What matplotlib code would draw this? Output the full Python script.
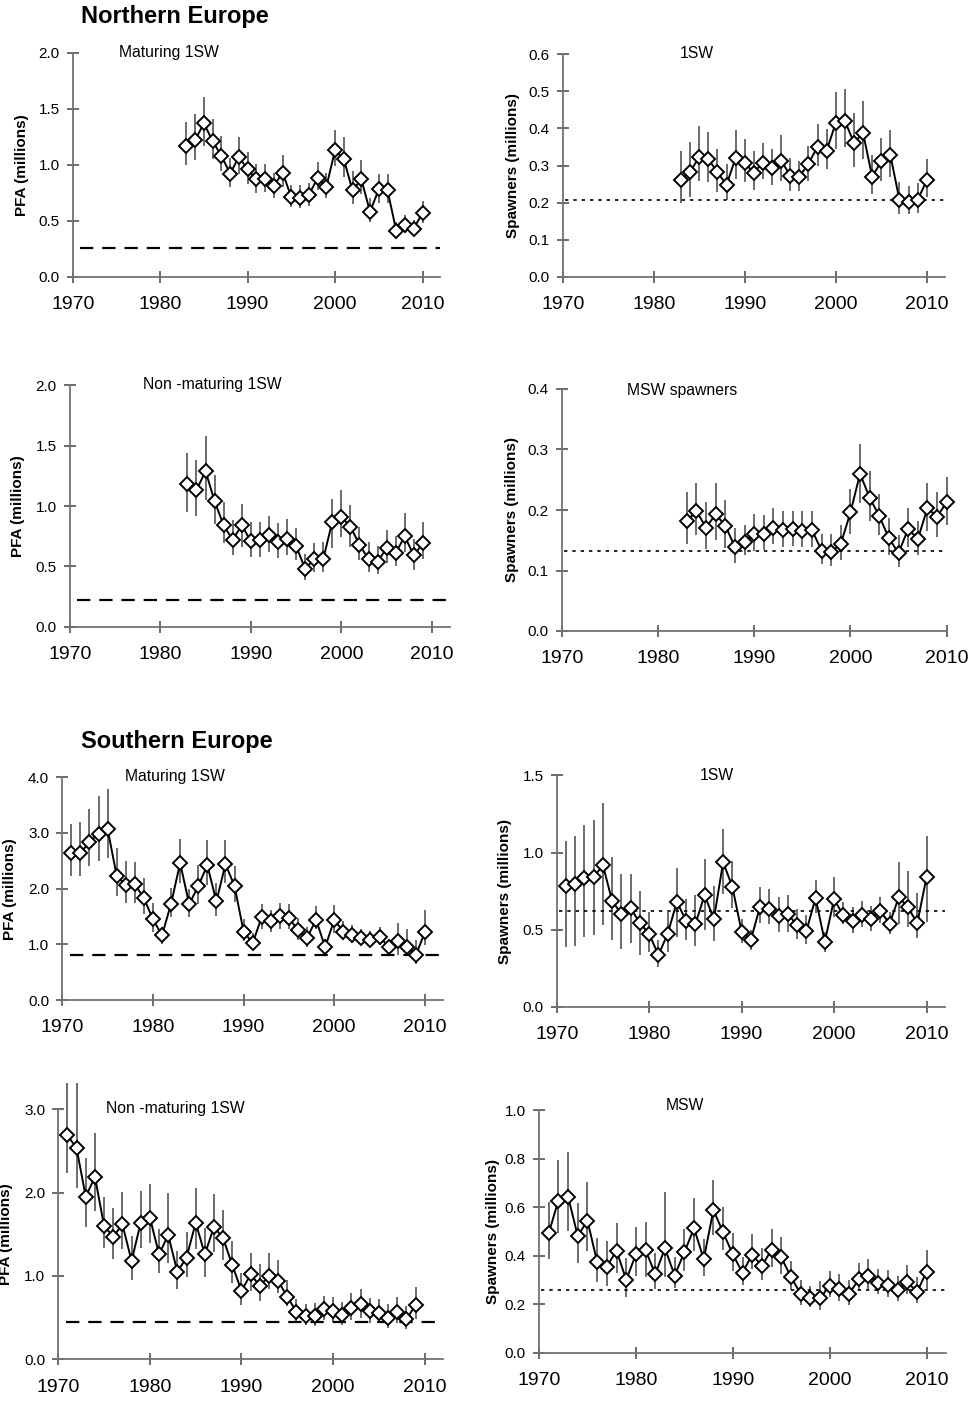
import matplotlib
matplotlib.use("Agg")
import numpy as np
import matplotlib.pyplot as plt

plt.rcParams['font.family'] = ['Liberation Sans', 'DejaVu Sans']

W, H = 973, 1401

# ---- Northern Europe ----
ne_years = list(range(1983, 2011))
ne_mat_pfa = [1.17, 1.22, 1.37, 1.21, 1.08, 0.92, 1.07, 0.96, 0.87, 0.87, 0.81, 0.93, 0.71, 0.70,
              0.73, 0.88, 0.80, 1.13, 1.05, 0.77, 0.87, 0.58, 0.78, 0.77, 0.41, 0.46, 0.43, 0.57]
ne_mat_pfa_lo = [1.00, 1.04, 1.17, 1.05, 0.94, 0.80, 0.92, 0.83, 0.75, 0.76, 0.70, 0.80, 0.62, 0.61,
                 0.63, 0.77, 0.70, 0.99, 0.89, 0.65, 0.74, 0.49, 0.66, 0.66, 0.34, 0.39, 0.37, 0.48]
ne_mat_pfa_hi = [1.38, 1.45, 1.60, 1.41, 1.26, 1.06, 1.25, 1.11, 1.01, 1.01, 0.93, 1.09, 0.82, 0.82,
                 0.84, 1.02, 0.93, 1.31, 1.25, 0.94, 1.04, 0.70, 0.92, 0.92, 0.49, 0.55, 0.51, 0.68]
ne_mat_ref = 0.26

ne_1sw_sp = [0.261, 0.282, 0.324, 0.317, 0.282, 0.248, 0.321, 0.306, 0.281, 0.308, 0.293, 0.313, 0.273, 0.270,
             0.305, 0.351, 0.340, 0.415, 0.420, 0.361, 0.387, 0.270, 0.311, 0.328, 0.207, 0.203, 0.208, 0.260]
ne_1sw_sp_lo = [0.200, 0.216, 0.257, 0.255, 0.228, 0.207, 0.263, 0.255, 0.234, 0.263, 0.248, 0.257, 0.232, 0.232,
                0.259, 0.299, 0.291, 0.345, 0.349, 0.295, 0.317, 0.222, 0.259, 0.270, 0.169, 0.169, 0.173, 0.216]
ne_1sw_sp_hi = [0.339, 0.364, 0.406, 0.389, 0.344, 0.303, 0.396, 0.371, 0.338, 0.361, 0.344, 0.382, 0.320, 0.313,
                0.352, 0.411, 0.399, 0.497, 0.505, 0.440, 0.474, 0.328, 0.374, 0.396, 0.256, 0.246, 0.254, 0.318]
ne_1sw_ref = 0.208

ne_nm_years = list(range(1983, 2010))
ne_nm_pfa = [1.18, 1.13, 1.29, 1.04, 0.84, 0.72, 0.84, 0.71, 0.72, 0.76, 0.70, 0.73, 0.67, 0.48,
             0.56, 0.56, 0.87, 0.91, 0.83, 0.68, 0.56, 0.54, 0.65, 0.61, 0.75, 0.59, 0.69]
ne_nm_pfa_lo = [0.95, 0.92, 1.05, 0.85, 0.69, 0.59, 0.66, 0.58, 0.58, 0.62, 0.57, 0.59, 0.55, 0.39,
                0.45, 0.45, 0.65, 0.74, 0.66, 0.55, 0.45, 0.44, 0.53, 0.50, 0.62, 0.47, 0.56]
ne_nm_pfa_hi = [1.44, 1.38, 1.58, 1.26, 1.03, 0.88, 1.02, 0.87, 0.87, 0.92, 0.86, 0.89, 0.82, 0.60,
                0.69, 0.70, 1.06, 1.13, 1.01, 0.83, 0.70, 0.67, 0.80, 0.75, 0.94, 0.73, 0.87]
ne_nm_ref = 0.224

ne_msw_sp = [0.182, 0.198, 0.171, 0.193, 0.174, 0.139, 0.147, 0.160, 0.160, 0.170, 0.167, 0.169, 0.165, 0.167,
             0.133, 0.131, 0.144, 0.196, 0.260, 0.220, 0.190, 0.153, 0.129, 0.169, 0.152, 0.203, 0.189, 0.213]
ne_msw_sp_lo = [0.143, 0.158, 0.136, 0.150, 0.138, 0.113, 0.125, 0.133, 0.134, 0.143, 0.139, 0.140, 0.139, 0.139,
                0.110, 0.107, 0.117, 0.161, 0.212, 0.182, 0.159, 0.126, 0.106, 0.139, 0.126, 0.166, 0.156, 0.175]
ne_msw_sp_hi = [0.230, 0.244, 0.213, 0.244, 0.217, 0.171, 0.176, 0.194, 0.192, 0.203, 0.199, 0.199, 0.199, 0.199,
                0.160, 0.160, 0.175, 0.235, 0.309, 0.264, 0.226, 0.186, 0.158, 0.203, 0.182, 0.245, 0.229, 0.254]
ne_msw_ref = 0.132

# ---- Southern Europe ----
se_years = list(range(1971, 2011))
se_mat_pfa = [2.64, 2.64, 2.84, 2.99, 3.07, 2.23, 2.07, 2.08, 1.83, 1.45, 1.16, 1.73, 2.46, 1.72, 2.05, 2.42,
              1.77, 2.44, 2.05, 1.23, 1.02, 1.49, 1.41, 1.50, 1.48, 1.25, 1.12, 1.44, 0.95, 1.44,
              1.23, 1.16, 1.11, 1.08, 1.13, 0.96, 1.06, 0.96, 0.80, 1.22]
se_mat_pfa_lo = [2.23, 2.22, 2.40, 2.50, 2.55, 1.86, 1.74, 1.75, 1.55, 1.23, 1.01, 1.49, 2.10, 1.49, 1.73, 2.07,
                 1.50, 2.10, 1.76, 1.06, 0.90, 1.27, 1.22, 1.28, 1.28, 1.08, 0.96, 1.28, 0.79, 1.21,
                 1.08, 1.02, 0.98, 0.95, 0.98, 0.84, 0.81, 0.79, 0.65, 0.98]
se_mat_pfa_hi = [3.16, 3.19, 3.43, 3.66, 3.79, 2.73, 2.50, 2.48, 2.19, 1.75, 1.32, 2.02, 2.89, 1.99, 2.43, 2.87,
                 2.11, 2.87, 2.40, 1.46, 1.20, 1.73, 1.62, 1.74, 1.73, 1.48, 1.32, 1.68, 1.10, 1.71,
                 1.42, 1.34, 1.28, 1.24, 1.31, 1.09, 1.38, 1.28, 1.07, 1.61]
se_mat_ref = 0.80

se_1sw_sp = [0.784, 0.796, 0.837, 0.842, 0.917, 0.686, 0.602, 0.639, 0.544, 0.473, 0.337, 0.473, 0.682, 0.557,
             0.537, 0.725, 0.568, 0.937, 0.779, 0.488, 0.436, 0.650, 0.635, 0.589, 0.602, 0.529, 0.490,
             0.706, 0.423, 0.697, 0.594, 0.555, 0.594, 0.570, 0.622, 0.540, 0.710, 0.645, 0.542, 0.840]
se_1sw_sp_lo = [0.391, 0.397, 0.455, 0.466, 0.531, 0.434, 0.373, 0.412, 0.337, 0.354, 0.257, 0.358, 0.455, 0.434,
                0.395, 0.501, 0.427, 0.732, 0.639, 0.412, 0.369, 0.542, 0.537, 0.486, 0.486, 0.438, 0.410,
                0.607, 0.354, 0.585, 0.535, 0.479, 0.516, 0.494, 0.546, 0.475, 0.537, 0.520, 0.445, 0.553]
se_1sw_sp_hi = [1.075, 1.107, 1.176, 1.213, 1.323, 0.971, 0.859, 0.859, 0.749, 0.617, 0.434, 0.613, 0.898, 0.697,
                0.725, 0.956, 0.784, 1.150, 0.948, 0.568, 0.496, 0.777, 0.766, 0.714, 0.725, 0.637, 0.596,
                0.825, 0.488, 0.842, 0.678, 0.650, 0.684, 0.654, 0.712, 0.617, 0.941, 0.881, 0.736, 1.107]
se_1sw_ref = 0.622

se_nm_years = list(range(1971, 2010))
se_nm_pfa = [2.69, 2.53, 1.95, 2.19, 1.60, 1.47, 1.62, 1.18, 1.64, 1.70, 1.26, 1.49, 1.05, 1.22, 1.64, 1.26,
             1.59, 1.45, 1.13, 0.82, 1.02, 0.88, 1.00, 0.94, 0.75, 0.57, 0.52, 0.52, 0.60, 0.58,
             0.53, 0.62, 0.66, 0.58, 0.56, 0.50, 0.57, 0.48, 0.65]
se_nm_pfa_lo = [2.23, 2.06, 1.59, 1.78, 1.34, 1.20, 1.32, 0.95, 1.34, 1.40, 1.03, 1.16, 0.84, 0.99, 1.32, 0.99,
                1.29, 1.19, 0.91, 0.65, 0.82, 0.70, 0.84, 0.79, 0.64, 0.43, 0.41, 0.40, 0.47, 0.45,
                0.41, 0.47, 0.50, 0.44, 0.44, 0.38, 0.43, 0.36, 0.48]
se_nm_pfa_hi = [3.32, 3.32, 2.41, 2.72, 1.95, 1.81, 2.01, 1.48, 2.02, 2.10, 1.56, 2.00, 1.30, 1.53, 2.05, 1.58,
                1.98, 1.79, 1.42, 1.03, 1.28, 1.14, 1.27, 1.19, 0.95, 0.72, 0.66, 0.68, 0.76, 0.75,
                0.69, 0.80, 0.84, 0.74, 0.72, 0.66, 0.75, 0.64, 0.87]
se_nm_ref = 0.444

se_msw_sp = [0.492, 0.627, 0.643, 0.481, 0.544, 0.374, 0.355, 0.421, 0.300, 0.405, 0.422, 0.324, 0.430, 0.318,
             0.414, 0.513, 0.385, 0.588, 0.496, 0.405, 0.330, 0.404, 0.357, 0.425, 0.393, 0.312, 0.243,
             0.227, 0.224, 0.276, 0.263, 0.243, 0.302, 0.318, 0.289, 0.279, 0.258, 0.293, 0.249, 0.334]
se_msw_sp_lo = [0.386, 0.492, 0.503, 0.368, 0.418, 0.291, 0.276, 0.327, 0.228, 0.315, 0.313, 0.264, 0.313, 0.267,
                0.338, 0.418, 0.318, 0.485, 0.423, 0.335, 0.280, 0.344, 0.300, 0.355, 0.324, 0.258, 0.197,
                0.190, 0.176, 0.228, 0.214, 0.195, 0.253, 0.261, 0.241, 0.228, 0.213, 0.242, 0.203, 0.258]
se_msw_sp_hi = [0.621, 0.792, 0.827, 0.616, 0.705, 0.473, 0.459, 0.536, 0.392, 0.518, 0.537, 0.410, 0.663, 0.395,
                0.510, 0.636, 0.470, 0.712, 0.599, 0.492, 0.396, 0.488, 0.432, 0.511, 0.476, 0.377, 0.300,
                0.275, 0.294, 0.337, 0.326, 0.298, 0.370, 0.385, 0.346, 0.340, 0.316, 0.363, 0.311, 0.423]
se_msw_ref = 0.258

xticks = [1970, 1980, 1990, 2000, 2010]

GRAY = '#737373'
ERR = '#606060'


def add_panel(box, years, vals, lo, hi, ref, yticks, ylabel, ylabel_x, title, title_xy,
              ref_style, xmax=2012):
    # box is (left, right, top, bottom) in figure pixels
    left, right, top, bottom = box
    ax = fig.add_axes([left / W, 1 - bottom / H, (right - left) / W, (bottom - top) / H])
    ax.vlines(years, lo, hi, colors=ERR, linewidth=1.3, zorder=1, clip_on=False)
    ax.plot(years, vals, color='black', linewidth=1.4, marker='D', markersize=7,
            markerfacecolor='white', markeredgecolor='black', markeredgewidth=1.4,
            zorder=3, clip_on=False)
    if ref_style == 'dashed':
        ax.axhline(ref, xmin=0.02, xmax=1.0, color='black', linewidth=1.6,
                   dashes=(6, 4), zorder=2)
    else:
        ax.axhline(ref, xmin=0.005, xmax=1.0, color='black', linewidth=1.2,
                   dashes=(2, 3), zorder=2)
    ax.set_xlim(1970, xmax)
    ax.set_ylim(0, yticks[-1])
    ax.set_xticks(xticks)
    ax.set_xticklabels([str(t) for t in xticks])
    ax.set_yticks(yticks)
    ax.set_yticklabels(['%.1f' % t for t in yticks])
    for s in ['top', 'right']:
        ax.spines[s].set_visible(False)
    for s in ['left', 'bottom']:
        ax.spines[s].set_color(GRAY)
        ax.spines[s].set_linewidth(1.3)
    ax.tick_params(axis='x', direction='inout', length=9, width=1.1, color='#444444',
                   labelsize=14, pad=9.5)
    ax.tick_params(axis='y', direction='inout', length=9, width=1.1, color='#444444',
                   labelsize=11, pad=5)
    fig.text(ylabel_x / W, 1 - (top + bottom) / 2 / H, ylabel, rotation=90, ha='center',
             va='center', fontsize=11, fontweight='bold')
    fig.text(title_xy[0] / W, 1 - title_xy[1] / H, title, ha='center', va='center', fontsize=11.3)
    return ax


fig = plt.figure(figsize=(W / 100, H / 100), dpi=100)

add_panel((72.7, 440, 52.7, 276.7), ne_years, ne_mat_pfa, ne_mat_pfa_lo, ne_mat_pfa_hi, ne_mat_ref,
          [0.0, 0.5, 1.0, 1.5, 2.0], 'PFA (millions)', 22.5, 'Maturing 1SW', (169, 52), 'dashed')
add_panel((562.7, 945, 54, 277), ne_years, ne_1sw_sp, ne_1sw_sp_lo, ne_1sw_sp_hi, ne_1sw_ref,
          [0.0, 0.1, 0.2, 0.3, 0.4, 0.5, 0.6], 'Spawners (millions)', 513.5, '1SW', (697, 54), 'dotted')
add_panel((69.7, 450, 385.3, 626.7), ne_nm_years, ne_nm_pfa, ne_nm_pfa_lo, ne_nm_pfa_hi, ne_nm_ref,
          [0.0, 0.5, 1.0, 1.5, 2.0], 'PFA (millions)', 18.5, 'Non -maturing 1SW', (212, 385), 'dashed')
add_panel((561.7, 946.7, 389, 631), ne_years, ne_msw_sp, ne_msw_sp_lo, ne_msw_sp_hi, ne_msw_ref,
          [0.0, 0.1, 0.2, 0.3, 0.4], 'Spawners (millions)', 512, 'MSW spawners', (682, 390), 'dotted',
          xmax=2010)
add_panel((62.3, 443, 777.3, 1000), se_years, se_mat_pfa, se_mat_pfa_lo, se_mat_pfa_hi, se_mat_ref,
          [0.0, 1.0, 2.0, 3.0, 4.0], 'PFA (millions)', 10.5, 'Maturing 1SW', (175, 776), 'dashed')
add_panel((556.7, 945, 775.3, 1007), se_years, se_1sw_sp, se_1sw_sp_lo, se_1sw_sp_hi, se_1sw_ref,
          [0.0, 0.5, 1.0, 1.5], 'Spawners (millions)', 505.5, '1SW', (717, 775), 'dotted')
add_panel((58.3, 443, 1109.3, 1359.3), se_nm_years, se_nm_pfa, se_nm_pfa_lo, se_nm_pfa_hi, se_nm_ref,
          [0.0, 1.0, 2.0, 3.0], 'PFA (millions)', 6.5, 'Non -maturing 1SW', (175, 1109), 'dashed')
add_panel((539, 946, 1110, 1352.7), se_years, se_msw_sp, se_msw_sp_lo, se_msw_sp_hi, se_msw_ref,
          [0.0, 0.2, 0.4, 0.6, 0.8, 1.0], 'Spawners (millions)', 493.5, 'MSW', (685, 1105), 'dotted')

fig.text(81 / W, 1 - 17 / H, 'Northern Europe', ha='left', va='center', fontsize=17, fontweight='bold')
fig.text(81 / W, 1 - 741.7 / H, 'Southern Europe', ha='left', va='center', fontsize=17, fontweight='bold')

fig.savefig('out.png', dpi=100)
